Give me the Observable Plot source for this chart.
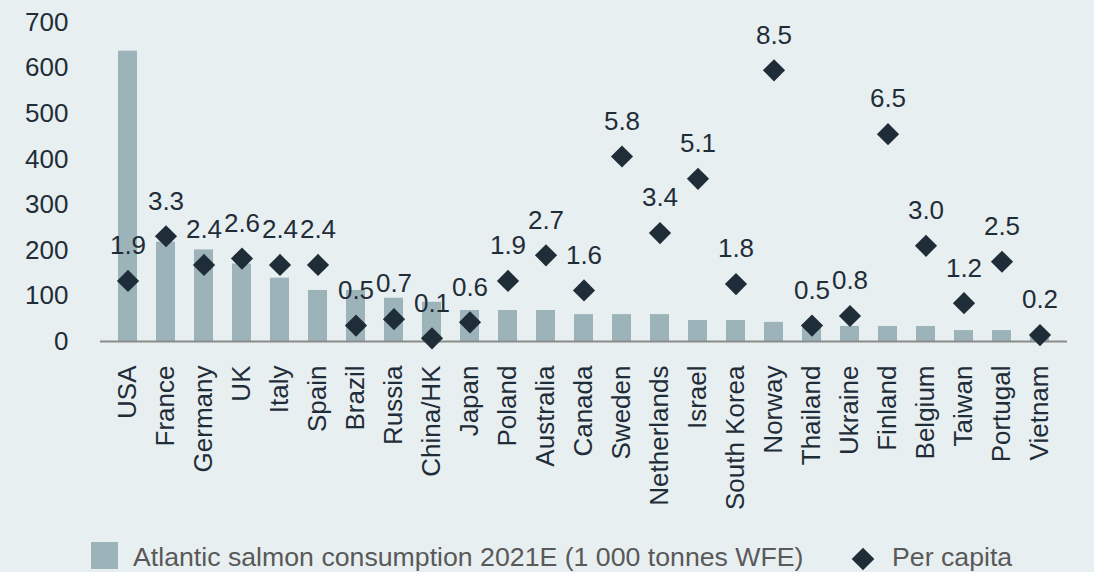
<!DOCTYPE html>
<html>
<head>
<meta charset="utf-8">
<script src="https://cdn.jsdelivr.net/npm/d3@7"></script>
<script src="https://cdn.jsdelivr.net/npm/@observablehq/plot@0.6"></script>
<style>
  html, body { margin: 0; padding: 0; background: #e8eff1; }
  #wrap { position: relative; width: 1094px; height: 572px; background: #e8eff1; font-family: "Liberation Sans", Arial, sans-serif; }
  #legend { position: absolute; left: 0; top: 525px; width: 1094px; height: 47px; }
  .sw { position: absolute; left: 91px; top: 17px; width: 27px; height: 27px; background: #9db3ba; }
  .lt { position: absolute; font-size: 26.7px; color: #595959; line-height: 26px; white-space: nowrap; }
  #dia { position: absolute; left: 855px; top: 26px; width: 16px; height: 16px; background: #1f2d38; transform: rotate(45deg); }
</style>
</head>
<body>
<div id="wrap">
  <div id="chart"></div>
  <div id="legend">
    <div class="sw"></div>
    <div class="lt" style="left:133px; top:19px;">Atlantic salmon consumption 2021E (1 000 tonnes WFE)</div>
    <div id="dia"></div>
    <div class="lt" style="left:892px; top:19px;">Per capita</div>
  </div>
</div>
<script>
const countries = ["USA","France","Germany","UK","Italy","Spain","Brazil","Russia","China/HK","Japan","Poland","Australia","Canada","Sweden","Netherlands","Israel","South Korea","Norway","Thailand","Ukraine","Finland","Belgium","Taiwan","Portugal","Vietnam"];
const consumption = [637, 218, 201, 170, 139, 112, 112, 95, 86, 68, 68, 68, 59, 59, 59, 46, 46, 42, 33, 33, 33, 33, 24, 24, 15];
const perCapita = [1.9, 3.3, 2.4, 2.6, 2.4, 2.4, 0.5, 0.7, 0.1, 0.6, 1.9, 2.7, 1.6, 5.8, 3.4, 5.1, 1.8, 8.5, 0.5, 0.8, 6.5, 3.0, 1.2, 2.5, 0.2];
const yTicks = [0, 100, 200, 300, 400, 500, 600, 700];
const perCapitaMax = 10; // secondary (hidden) axis 0–10 mapped onto 0–700

const data = countries.map((c, i) => ({country: c, cons: consumption[i], pc: perCapita[i]}));
const k = 700 / perCapitaMax;

const textColor = "#1f2d38";
const fs = 26;
const chart = Plot.plot({
  width: 1094,
  height: 525,
  marginLeft: 100,
  marginRight: 27,
  marginTop: 22,
  marginBottom: 184,
  style: {background: "#e8eff1", fontFamily: "'Liberation Sans', Arial, sans-serif", fontSize: fs + "px", color: textColor},
  x: {domain: countries, paddingInner: 0.5, paddingOuter: 0.25, label: null},
  y: {domain: [0, 700], label: null},
  marks: [
    Plot.barY(data, {x: "country", y: "cons", fill: "#9db3ba"}),
    Plot.ruleY([0], {stroke: "#8c8c8c", strokeWidth: 2}),
    Plot.axisY({ticks: yTicks, tickSize: 0, tickPadding: 32, fontSize: fs, fill: textColor, label: null}),
    Plot.axisX({tickSize: 0, tickPadding: 24, tickRotate: -90, fontSize: fs, fill: textColor, label: null}),
    Plot.dot(data, {x: "country", y: d => d.pc * k, symbol: "diamond2", r: 10, fill: "#1f2d38", stroke: "none"}),
    Plot.text(data, {x: "country", y: d => d.pc * k, text: d => d.pc.toFixed(1), dy: -35, fontSize: fs, fill: textColor})
  ]
});
document.getElementById("chart").appendChild(chart);
</script>
</body>
</html>
